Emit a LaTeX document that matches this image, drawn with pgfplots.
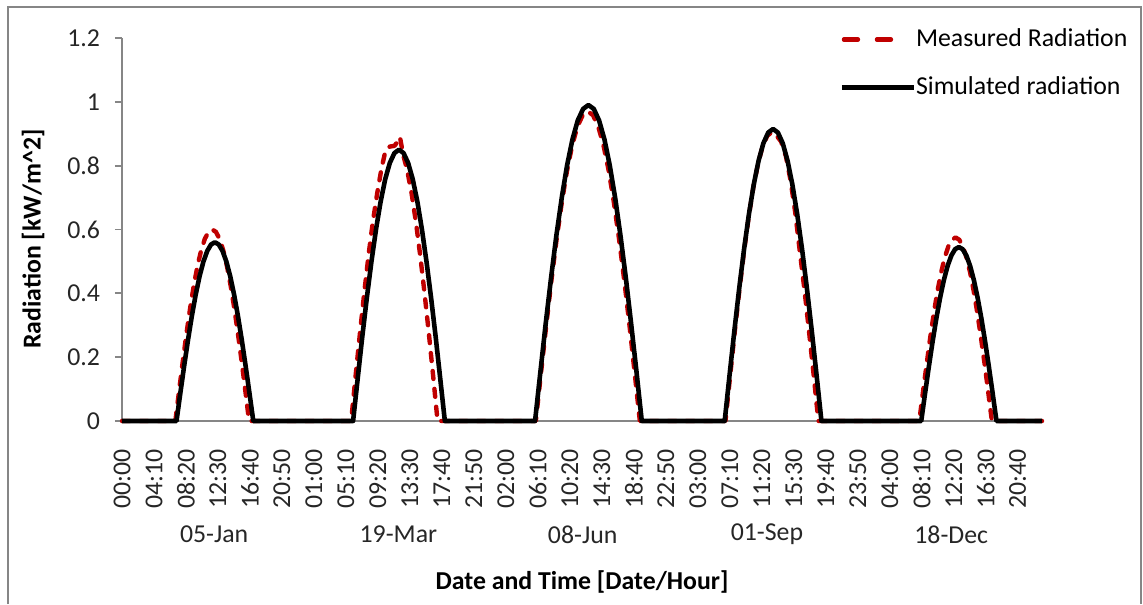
\documentclass[border=0pt]{standalone}
\usepackage{fontspec}
\setmainfont{Carlito}
\usepackage{pgfplots}
\pgfplotsset{compat=1.18}
\definecolor{mred}{HTML}{C00000}
\definecolor{axgray}{HTML}{868686}
\newcommand{\cf}{\fontsize{12.9}{15}\selectfont}
\begin{document}
\begin{tikzpicture}
\begin{axis}[
  scale only axis, width=460pt, height=191.5pt,
  xmin=0, xmax=119.83, ymin=0, ymax=1.2,
  axis x line=bottom, axis y line=left,
  axis line style={axgray, line width=0.9pt, -},
  clip=false,
  tick align=outside, major tick length=3.5pt,
  ytick={0,0.2,0.4,0.6,0.8,1,1.2},
  yticklabels={0,0.2,0.4,0.6,0.8,1,1.2},
  ytick style={axgray, line width=0.9pt},
  yticklabel style={font=\cf, text=black!85, xshift=-4pt},
  xtick={0,4.1667,8.3333,12.5,16.6667,20.8333,25,29.1667,33.3333,37.5,41.6667,45.8333,50,54.1667,58.3333,62.5,66.6667,70.8333,75,79.1667,83.3333,87.5,91.6667,95.8333,100,104.1667,108.3333,112.5,116.6667},
  xticklabels={00:00,04:10,08:20,12:30,16:40,20:50,01:00,05:10,09:20,13:30,17:40,21:50,02:00,06:10,10:20,14:30,18:40,22:50,03:00,07:10,11:20,15:30,19:40,23:50,04:00,08:10,12:20,16:30,20:40},
  xtick style={draw=none},
  xticklabel style={rotate=90, anchor=east, font=\cf, text=black!85, inner xsep=10.5pt},
  every axis y label/.style={at={(axis description cs:-0.0967,0.475)}, rotate=90, anchor=center, font=\cf\bfseries},
  every axis x label/.style={at={(axis description cs:0.5,-0.4204)}, anchor=center, font=\cf\bfseries},
  ylabel={Radiation [kW/m\textasciicircum 2]},
  xlabel={Date and Time [Date/Hour]},
  legend style={draw=none, fill=none, at={(0.7794,1.027)}, anchor=north west, row sep=12.5pt, column sep=-0.5pt, inner sep=0pt, font=\cf, nodes={inner sep=0.5pt}},
  legend cell align=left,
  legend image code/.code={\draw[#1] (0pt,0pt) -- (36pt,0pt);},
]
\addplot[mred, line width=2.2pt, dash pattern=on 4pt off 5pt, line cap=round, line join=round,
  legend image code/.code={\draw[mred, line width=2.2pt, line cap=round, dash pattern=on 7pt off 9.5pt] (1.1pt,0pt) -- (25pt,0pt);}] table {
0 0
6.95 0
7.43 .0938
7.91 .1854
8.39 .2724
8.87 .3527
9.35 .4243
9.83 .4854
10.31 .5346
10.79 .5707
11.27 .5926
11.75 .60
12.23 .5926
12.71 .5707
13.19 .5346
13.67 .4854
14.15 .4243
14.63 .3527
15.11 .2724
15.59 .1854
16.07 .0938
16.55 0
29.85 0
30.41 .1376
30.98 .2719
31.54 .3995
32.10 .5173
32.66 .6222
33.23 .7119
33.79 .79
34.35 .85
34.91 .86
35.48 .862
35.80 .872
36.20 .89
36.60 .837
37.16 .7841
37.73 .7119
38.29 .6222
38.85 .5173
39.41 .3995
39.98 .2719
40.54 .1376
41.10 0
53.90 0
54.58 .1517
55.26 .2997
55.93 .4404
56.61 .5702
57.29 .6859
57.97 .7847
58.64 .8643
59.32 .9226
60.00 .9581
60.68 .97
61.35 .9581
62.03 .9226
62.71 .8643
63.39 .7847
64.06 .6859
64.74 .5702
65.42 .4404
66.10 .2997
66.77 .1517
67.45 0
78.60 0
79.21 .1415
79.81 .2796
80.42 .4109
81.02 .5320
81.63 .6399
82.23 .7321
82.84 .8064
83.44 .8607
84.05 .8939
84.65 .905
85.26 .8939
85.86 .875
86.47 .83
87.07 .755
87.68 .655
88.28 .5320
88.89 .4109
89.49 .2796
90.10 .1415
90.70 0
103.85 0
104.32 .0899
104.80 .1777
105.27 .2611
105.74 .3380
106.21 .4066
106.69 .4652
107.16 .5123
107.63 .5469
108.10 .5679
108.58 .575
109.05 .5679
109.52 .5469
109.99 .5123
110.47 .4652
110.94 .4066
111.41 .3380
111.88 .2611
112.36 .1777
112.83 .0899
113.30 0
119.83 0
};
\addlegendentry{Measured Radiation}
\addplot[black, line width=2.3pt, line join=round] table {
0 0
7.1 0
7.6 .0876
8.1 .1730
8.6 .2542
9.1 .3292
9.6 .3960
10.1 .4530
10.6 .4990
11.1 .5326
11.6 .5531
12.1 .56
12.6 .5531
13.1 .5326
13.6 .4990
14.1 .4530
14.6 .3960
15.1 .3292
15.6 .2542
16.1 .1730
16.6 .0876
17.1 0
30.10 0
30.70 .1329
31.29 .2627
31.89 .3859
32.49 .4996
33.09 .6010
33.69 .6877
34.28 .7574
34.88 .8084
35.48 .8395
36.08 .85
36.67 .8395
37.27 .8084
37.87 .7574
38.47 .6877
39.06 .6010
39.66 .4996
40.26 .3859
40.86 .2627
41.45 .1329
42.05 0
53.80 0
54.50 .1548
55.19 .3059
55.89 .4495
56.58 .5819
57.28 .7000
57.97 .8009
58.67 .8821
59.36 .9416
60.06 .9778
60.75 .99
61.45 .9778
62.14 .9416
62.84 .8821
63.53 .8009
64.23 .7000
64.92 .5819
65.62 .4495
66.31 .3059
67.01 .1548
67.70 0
78.50 0
79.13 .1431
79.76 .2827
80.39 .4154
81.02 .5378
81.65 .6470
82.28 .7402
82.91 .8153
83.54 .8703
84.17 .9037
84.80 .915
85.43 .9037
86.06 .8703
86.69 .8153
87.32 .7402
87.95 .6470
88.58 .5378
89.21 .4154
89.84 .2827
90.47 .1431
91.10 0
104.10 0
104.59 .0852
105.08 .1684
105.57 .2474
106.06 .3204
106.55 .3854
107.04 .4409
107.53 .4856
108.02 .5183
108.51 .5383
109.00 .545
109.49 .5383
109.98 .5183
110.47 .4856
110.96 .4409
111.45 .3854
111.94 .3204
112.43 .2474
112.92 .1684
113.41 .0852
113.90 0
119.83 0
};
\addlegendentry{Simulated radiation}
\node[font=\cf, text=black!85, yshift=-56.75pt] at (axis cs:12,0) {05-Jan};
\node[font=\cf, text=black!85, yshift=-56.75pt] at (axis cs:36,0) {19-Mar};
\node[font=\cf, text=black!85, yshift=-56.75pt] at (axis cs:60,0) {08-Jun};
\node[font=\cf, text=black!85, yshift=-56.75pt] at (axis cs:84,0) {01-Sep};
\node[font=\cf, text=black!85, yshift=-56.75pt] at (axis cs:108,0) {18-Dec};
\end{axis}
\draw[axgray, line width=1pt] (-57pt,-91.5pt) -- (-57pt,207pt) -- (509.5pt,207pt) -- (509.5pt,-91.5pt);
\pgfresetboundingbox
\useasboundingbox (-61pt,-91.5pt) rectangle (510.5pt,210.5pt);
\end{tikzpicture}
\end{document}
